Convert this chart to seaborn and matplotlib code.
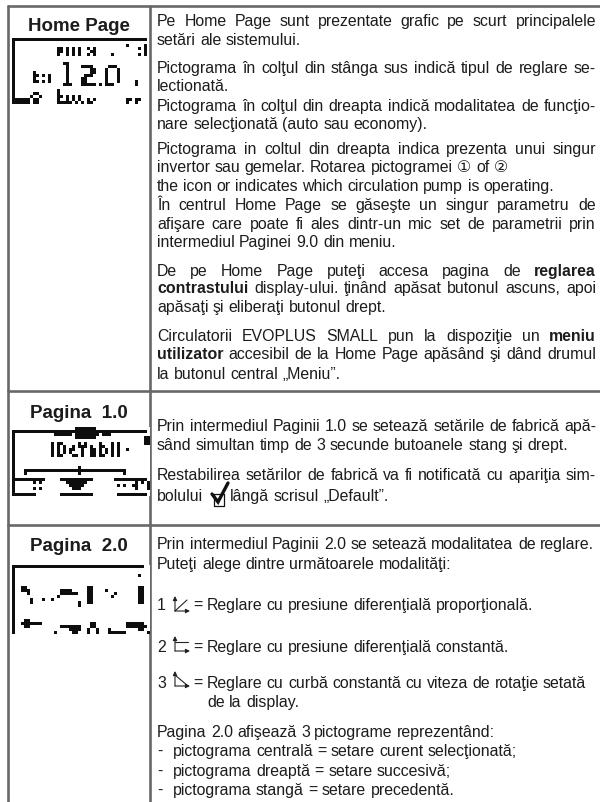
#!/usr/bin/python3
import seaborn as sns
import pandas as pd
import matplotlib.pyplot as plt
import numpy as np

# table text
row_titles = ["Home Page", "Pagina  1.0", "Pagina  2.0"]

# trailing ~ = justified line, **x** = bold word
home_lines = [
    "Pe Home Page sunt prezentate grafic pe scurt principalele~",
    "setări ale sistemului.",
    "Pictograma în colţul din stânga sus indică tipul de reglare se-~",
    "lectionată.",
    "Pictograma în colţul din dreapta indică modalitatea de funcţio-~",
    "nare selecţionată (auto sau economy).",
    "Pictograma in coltul din dreapta indica prezenta unui singur~",
    "invertor sau gemelar. Rotarea pictogramei ① of ②",
    "the icon or indicates which circulation pump is operating.",
    "În centrul Home Page se găseşte un singur parametru de~",
    "afişare care poate fi ales dintr-un mic set de parametrii prin~",
    "intermediul Paginei 9.0 din meniu.",
    "De pe Home Page puteţi accesa pagina de **reglarea**~",
    "**contrastului** display-ului. ţinând apăsat butonul ascuns, apoi~",
    "apăsaţi şi eliberaţi butonul drept.",
    "Circulatorii EVOPLUS SMALL pun la dispoziţie un **meniu**~",
    "**utilizator** accesibil de la Home Page apăsând şi dând drumul~",
    "la butonul central „Meniu”.",
]
page1_lines = [
    "Prin intermediul Paginii 1.0 se setează setările de fabrică apă-~",
    "sând simultan timp de 3 secunde butoanele stang şi drept.",
    "Restabilirea setărilor de fabrică va fi notificată cu apariţia sim-~",
    "bolului",
    "lângă scrisul „Default”.",
]
page2_lines = [
    "Prin intermediul Paginii 2.0 se setează modalitatea de reglare.",
    "Puteţi alege dintre următoarele modalităţi:",
    "1",
    "= Reglare cu presiune diferenţială proporţională.",
    "2",
    "= Reglare cu presiune diferenţială constantă.",
    "3",
    "= Reglare cu curbă constantă cu viteza de rotaţie setată",
    "de la display.",
    "Pagina 2.0 afişează 3 pictograme reprezentând:",
    "-",
    "pictograma centrală = setare curent selecţionată;",
    "-",
    "pictograma dreaptă = setare succesivă;",
    "-",
    "pictograma stangă = setare precedentă.",
]

# LCD screens, one string per row, # = dark pixel
lcd_home = [
    "#############################################",
    "#",
    "#                                     #     #",
    "#              ## # # #  # #              # #",
    "#              ## # # #   ##                #",
    "#              #  # # #  # #     #        # #",
    "#",
    "#",
    "#                ##",
    "#                 #    ####     ###",
    "#                 #       ##   #   #",
    "#      #          #       ##   #   #",
    "#      ## # #     #     ###    #   #",
    "#      #    #     #    ##      #   #",
    "#      ## # #     #    ##      #   #     #",
    "#                ###   ##### # ###       #",
    "#",
    "#              #",
    "#      ##      #",
    "#     #  #     ## # # #",
    "###### ##      #  # # #  # #          ## ##",
    "###### ##      ##### # # ##           #  #",
]
lcd_default = [
    "                     #######",
    "#############################################",
    "#             ###### ######## ###",
    "#                    #######                ##",
    "#                                           ##",
    "#            # ##     # #    #   # #        ##",
    "#            # # #  # ### #  ##  # #",
    "#            # # # ##  #  ## # # # #  #",
    "#            # # # #   #  ## # # # #",
    "#            # ##   ## #  ## ##  # #",
    "#",
    "#",
    "#",
    "#                     #",
    "#   ##################################",
    "#   #                 #              #",
    "#",
    "###########     ###########       ###########",
    "#      # #        #######                # # #",
    "#                  #####           # #  ##   #",
    "#      # #          ###                  #   #",
    "#",
    "########        ###########        ##########",
]
lcd_regulate = [
    "############################################",
    "#",
    "#",
    "#                                         #",
    "#",
    "#",
    "#",
    "#  ##                    ##               ##",
    "#  ###          ####     ##    #          ##",
    "#    #          ######   ##       #       ##",
    "#              #         ##      #        ##",
    "#     #   #  #           ##               ##",
    "#     #               #  ##               ##",
    "#                     #",
    "#",
    "#",
    "#",
    "#",
    "#   ##",
    "#  #######                ##          ######",
    "#   ##          #######   ##          #######",
    "#                  ####  #  #   #         ##",
    "#             #     ##   #  #   ######       #",
]

# lay-out in pixels of the 600x803 page
col_line = 150
row_lines = [7, 392, 526]
home_y = [26, 45, 73, 91, 111, 129, 154, 172, 191, 210, 229, 247, 276, 293, 312, 341, 359, 379]
page1_y = [431, 450, 480, 501, 501]
page1_x = [157, 157, 157, 157, 230]
page2_y = [549, 569, 610, 610, 652, 652, 688, 688, 707, 737, 756, 756, 776, 776, 795, 795]
page2_x = [157, 157, 157, 193, 157, 193, 157, 193, 207, 157, 157, 173, 157, 173, 157, 173]
title_y = [31, 418, 551]

BODY = "Liberation Sans"
LEFT, RIGHT = 157, 596
SIZE = 11.45

sns.set_theme(style="white")
plt.rcParams["font.family"] = BODY

fig = plt.figure(figsize=(6.0, 8.03), dpi=100)
ax = fig.add_axes([0, 0, 1, 1])

# table rules
rules = pd.DataFrame({
    "x": [8, 8, col_line, col_line] + [8, 600] * 3,
    "y": [row_lines[0], 803, row_lines[0], 803] + [r for r in row_lines for _ in (0, 1)],
    "id": [0, 0, 1, 1, 2, 2, 3, 3, 4, 4],
})
sns.lineplot(data=rules, x="x", y="y", units="id", estimator=None, color="#686868",
             lw=1.9, ax=ax, legend=False)
ax.set_xlim(0, 600)
ax.set_ylim(803, 0)
ax.axis("off")

renderer = fig.canvas.get_renderer()


def word_family(word):
    # only the circled digits need the other font
    return "DejaVu Sans" if word in ("①", "②") else BODY


def text_width(word, weight):
    t = ax.text(0, 0, word, fontsize=SIZE, fontweight=weight, family=word_family(word))
    w = t.get_window_extent(renderer).width
    t.remove()
    return w


def draw_line(line, y, x=LEFT):
    justified = line.endswith("~")
    words = line.rstrip("~").split(" ")
    weights = ["bold" if w.startswith("**") else "normal" for w in words]
    words = [w.strip("*") for w in words]
    widths = [text_width(w, wt) for w, wt in zip(words, weights)]
    gap = SIZE * 100 / 72 * 0.278
    if justified and len(words) > 1:
        gap = (RIGHT - x - sum(widths)) / (len(words) - 1)
    for w, wt, wd in zip(words, weights, widths):
        ax.text(x, y, w, fontsize=SIZE, fontweight=wt, family=word_family(w), color="#1c1c1c", va="baseline")
        x += wd + gap


for line, y in zip(home_lines, home_y):
    draw_line(line, y)
for line, y, x in zip(page1_lines, page1_y, page1_x):
    draw_line(line, y, x)
for line, y, x in zip(page2_lines, page2_y, page2_x):
    draw_line(line, y, x)

for title, y in zip(row_titles, title_y):
    ax.text(79, y, title, fontsize=13.5, fontweight="bold", color="#1c1c1c", ha="center", va="baseline")


# LCD screens as little heatmaps, 3 px per LCD pixel
def draw_lcd(rows, left, top):
    ncol = max(len(r) for r in rows)
    cells = np.array([[c == "#" for c in r.ljust(ncol)] for r in rows], dtype=float)
    h, w = cells.shape
    lcd_ax = fig.add_axes([left / 600, 1 - (top + h * 3) / 803, w * 3 / 600, h * 3 / 803])
    sns.heatmap(cells, ax=lcd_ax, cbar=False, cmap="Greys", vmin=0, vmax=1.05,
                xticklabels=False, yticklabels=False)


draw_lcd(lcd_home, 12, 39)
draw_lcd(lcd_default, 12, 428)
draw_lcd(lcd_regulate, 12, 566)

# curve pictograms next to the numbers
glyph = dict(color="#222222", lw=0.8)
head = dict(arrowstyle="-|>,head_width=0.1,head_length=0.2", color="#222222", lw=0.8, shrinkA=0, shrinkB=0)
for base in (612, 652, 687):
    ax.annotate("", xy=(175, base - 15), xytext=(175, base), arrowprops=head)
    ax.annotate("", xy=(190, base), xytext=(175, base), arrowprops=head)
ax.plot([175, 187], [612, 601], **glyph)
ax.plot([175, 188], [643, 643], **glyph)
ax.plot([175, 188], [676, 687], **glyph)

# tick box in the default line
ax.plot([214, 224, 224, 214, 214], [495, 495, 507, 507, 495], color="#111111", lw=0.9)
ax.plot([212, 218, 228], [495, 503, 484], color="#111111", lw=2.4, solid_joinstyle="miter")

plt.savefig("out.png", dpi=100)
